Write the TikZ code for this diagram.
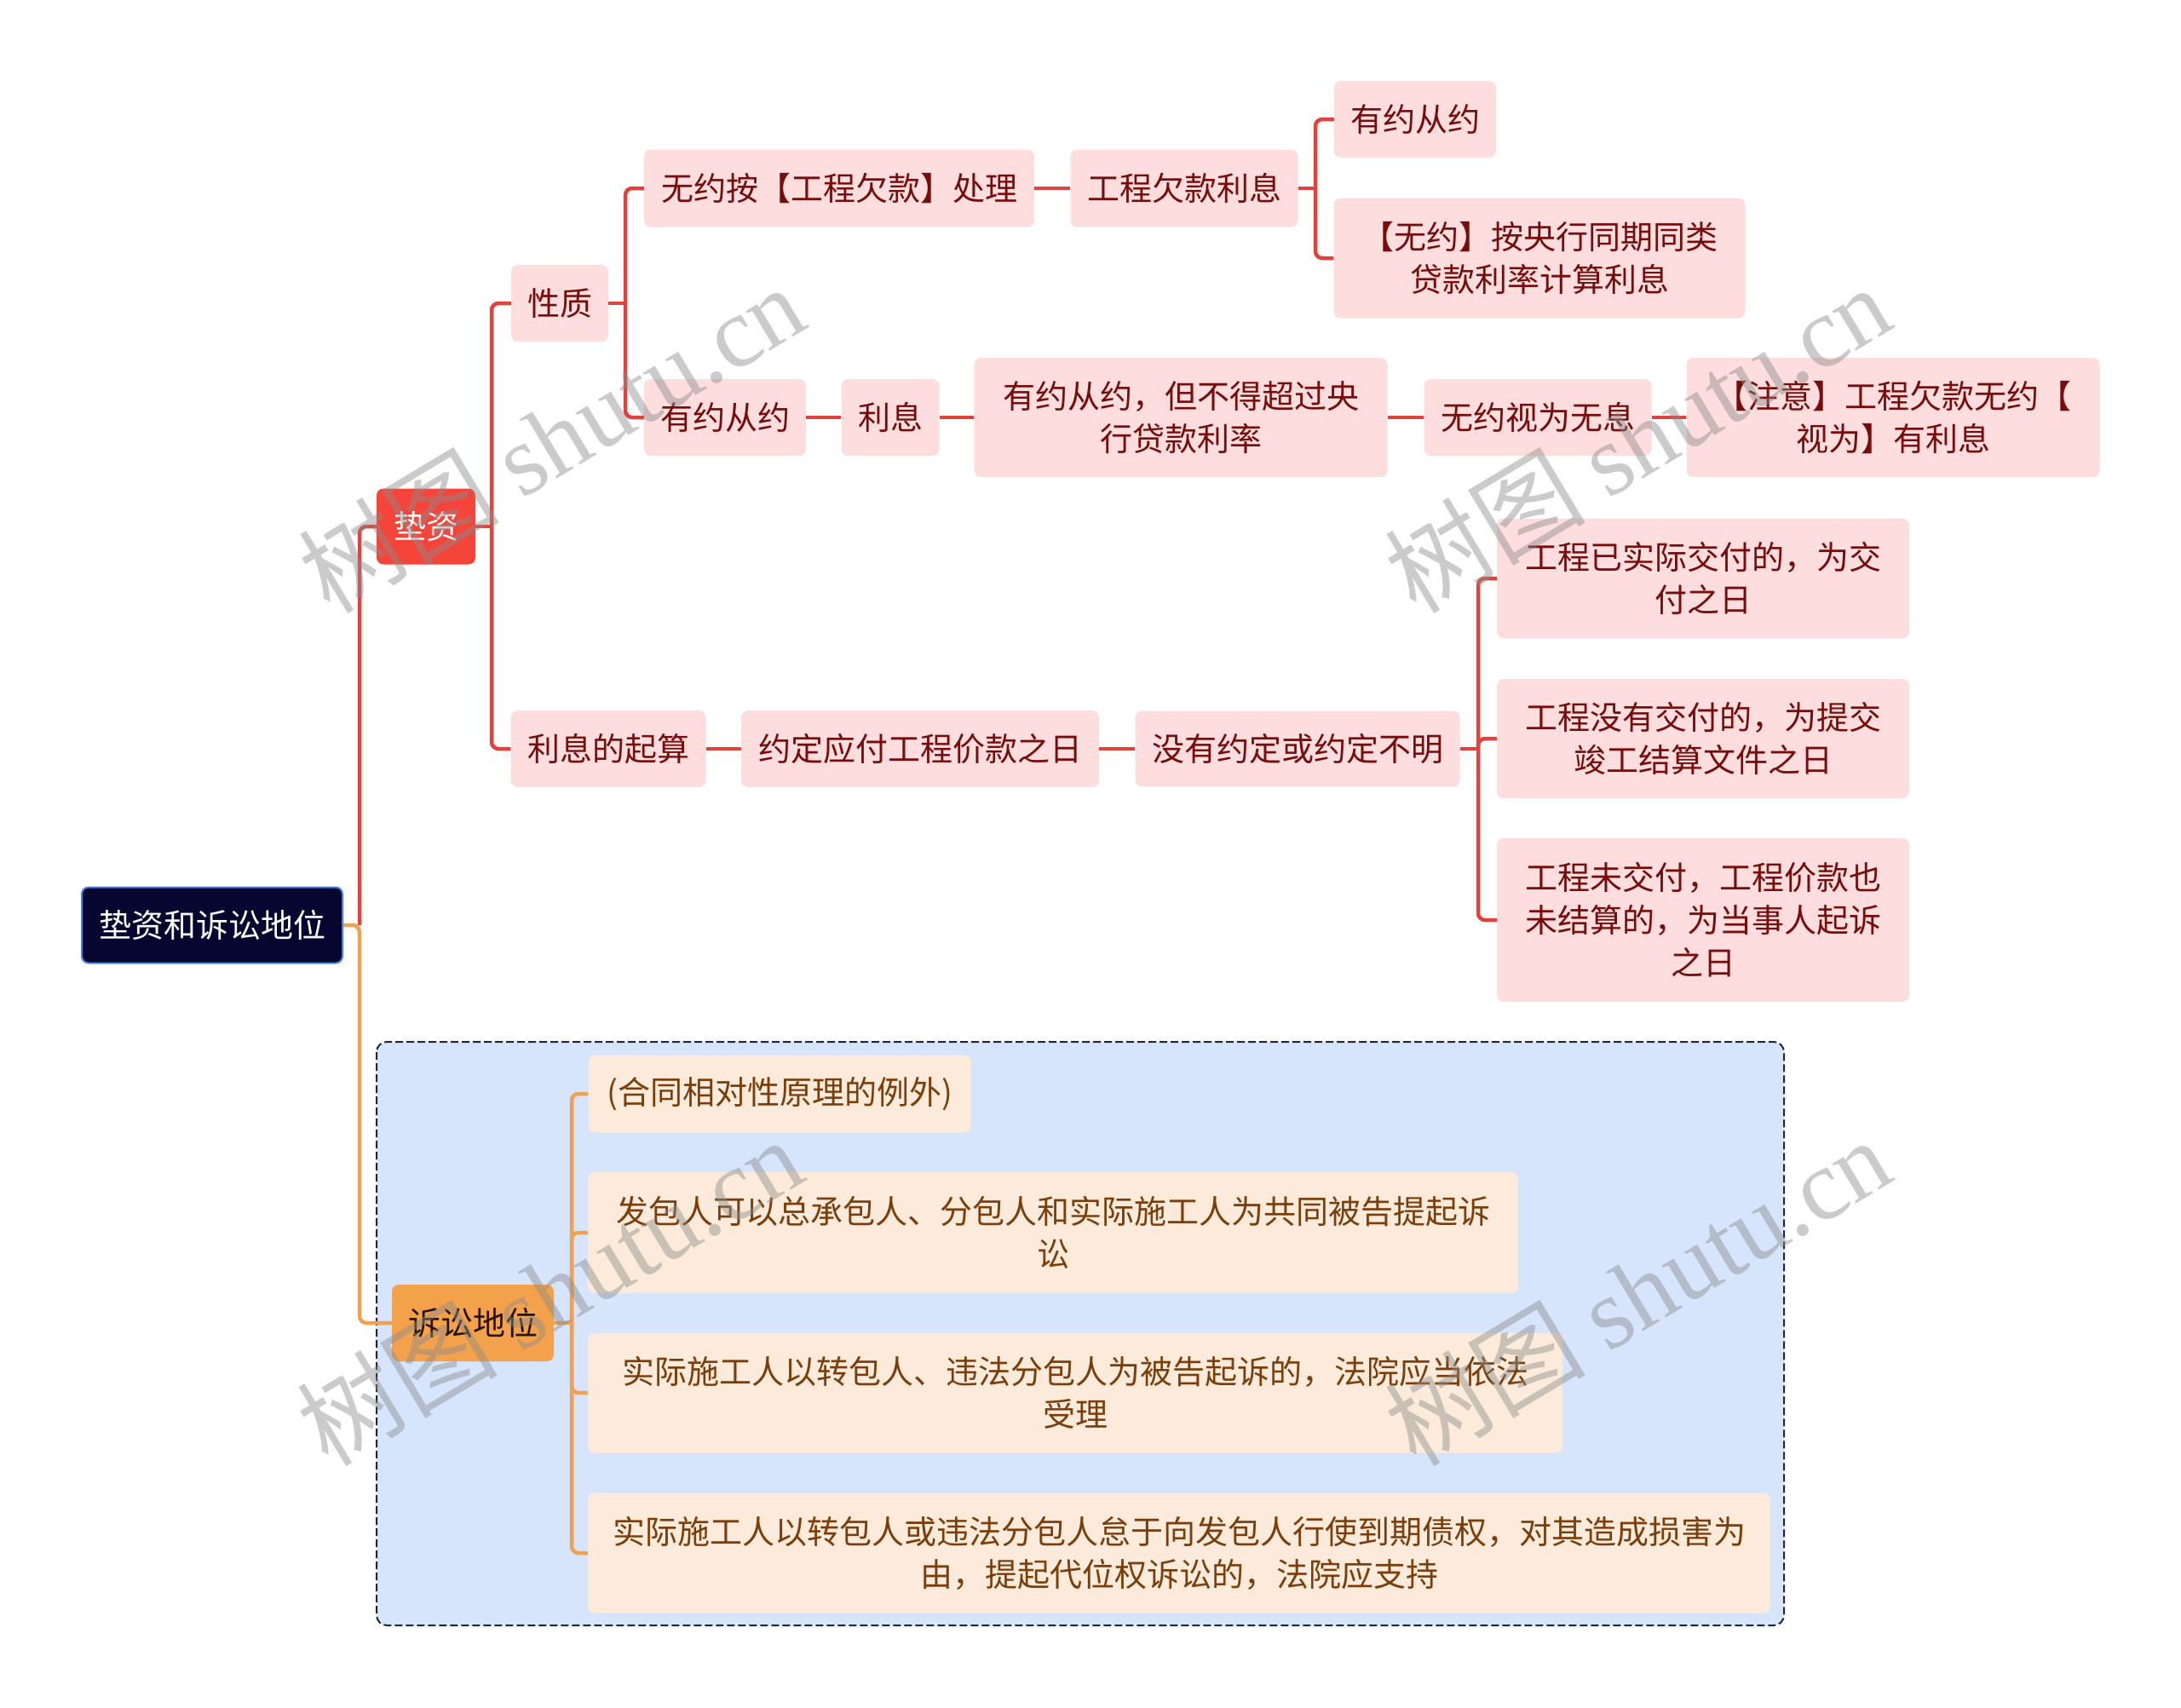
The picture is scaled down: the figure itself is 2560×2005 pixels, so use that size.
\documentclass[tikz,border=0pt]{standalone}
\usepackage{fontspec}
\setmainfont{Noto Sans CJK SC}
\newfontfamily\wmfont{Liberation Serif}
\usepackage{xcolor}
\usetikzlibrary{calc}
\definecolor{linered}{RGB}{226, 66, 60}
\definecolor{lineorange}{RGB}{240, 162, 80}
\definecolor{pinkfill}{RGB}{253, 221, 221}
\definecolor{pinktext}{RGB}{118, 12, 12}
\definecolor{redfill}{RGB}{245, 68, 58}
\definecolor{rootfill}{RGB}{6, 6, 48}
\definecolor{rootborder}{RGB}{70, 130, 225}
\definecolor{orangefill}{RGB}{244, 161, 76}
\definecolor{peachfill}{RGB}{252, 235, 218}
\definecolor{browntext}{RGB}{122, 62, 12}
\definecolor{groupblue}{RGB}{214, 228, 252}
\definecolor{groupedge}{RGB}{30, 40, 50}

\begin{document}
\begin{tikzpicture}[x=1pt, y=-1pt,
  box/.style={rounded corners=8pt, inner sep=0pt, align=center, font=\fontsize{38}{50}\selectfont},
  sz/.style 2 args={minimum width=#1pt, minimum height=#2pt},
  leaf/.style={box, fill=pinkfill, text=pinktext},
  suit/.style={box, fill=peachfill, text=browntext},
  redline/.style={linered, line width=4.5pt, rounded corners=8pt},
  orangeline/.style={lineorange, line width=4.5pt, rounded corners=8pt},
  wmark/.style={black!45, opacity=0.45, rotate=31, font=\fontsize{118}{118}\selectfont}]
  \useasboundingbox (0,0) rectangle (2560,2005);

  % 诉讼地位分组底框
  \draw[groupedge, fill=groupblue, line width=2pt, dash pattern=on 9pt off 4pt, rounded corners=12pt]
    (442,1223) rectangle (2094,1908);

  % 主干节点
  \node[box, sz={306}{89}, fill=rootfill, draw=rootborder, line width=2pt, text=white] (root) at (249,1086) {垫资和诉讼地位};
  \node[box, sz={116}{89}, fill=redfill, text=white] (dz) at (500,618) {垫资};
  \node[box, sz={190}{90}, fill=orangefill, text=black!75!orange!60!black] (ss) at (555,1553) {诉讼地位};

  % 垫资分支
  \node[leaf, sz={114}{90}] (xz) at (657,356) {性质};
  \node[leaf, sz={229}{90}] (qs) at (714,879) {利息的起算};
  \node[leaf, sz={458}{91}] (wy) at (985,221) {无约按【工程欠款】处理};
  \node[leaf, sz={190}{90}] (yy) at (851,490) {有约从约};
  \node[leaf, sz={115}{90}] (lx) at (1045,490) {利息};
  \node[leaf, sz={485}{140}] (bd) at (1386,490) {有约从约，但不得超过央\\行贷款利率};
  \node[leaf, sz={267}{91}] (qk) at (1390,221) {工程欠款利息};
  \node[leaf, sz={190}{90}] (yy2) at (1661,140) {有约从约};
  \node[leaf, sz={483}{141}] (wy2) at (1807,303) {【无约】按央行同期同类\\贷款利率计算利息};
  \node[leaf, sz={267}{90}] (ws) at (1805,490) {无约视为无息};
  \node[leaf, sz={485}{140}] (zy) at (2222,490) {【注意】工程欠款无约【\\视为】有利息};
  \node[leaf, sz={420}{90}] (yd) at (1080,879) {约定应付工程价款之日};
  \node[leaf, sz={381}{89}] (bm) at (1523,879) {没有约定或约定不明};
  \node[leaf, sz={484}{141}] (jf1) at (1999,679) {工程已实际交付的，为交\\付之日};
  \node[leaf, sz={484}{140}] (jf2) at (1999,867) {工程没有交付的，为提交\\竣工结算文件之日};
  \node[leaf, sz={484}{192}] (jf3) at (1999,1080) {工程未交付，工程价款也\\未结算的，为当事人起诉\\之日};

  % 诉讼地位分支
  \node[suit, sz={449}{91}] (s1) at (915,1284) {(合同相对性原理的例外)};
  \node[suit, sz={1092}{142}] (s2) at (1236,1447) {发包人可以总承包人、分包人和实际施工人为共同被告提起诉\\讼};
  \node[suit, sz={1144}{141}] (s3) at (1262,1635) {实际施工人以转包人、违法分包人为被告起诉的，法院应当依法\\受理};
  \node[suit, sz={1388}{141}] (s4) at (1384,1823) {实际施工人以转包人或违法分包人怠于向发包人行使到期债权，对其造成损害为\\由，提起代位权诉讼的，法院应支持};

  % 分叉竖线位置
  \coordinate (t0) at (422,0);
  \coordinate (t1) at (577,0);
  \coordinate (t2) at (734,0);
  \coordinate (t3) at (1544,0);
  \coordinate (t4) at (1735,0);
  \coordinate (t5) at (671,0);

  % 连线
  \draw[orangeline] (root.east) -- (root.east -| t0) |- (ss.west);
  \draw[redline] (root.east -| t0) |- (dz.west);

  \draw[redline] (dz.east) -- (dz.east -| t1);
  \foreach \c in {xz, qs} \draw[redline] (dz.east -| t1) |- (\c.west);

  \draw[redline] (xz.east) -- (xz.east -| t2);
  \foreach \c in {wy, yy} \draw[redline] (xz.east -| t2) |- (\c.west);

  \draw[redline] (qk.east) -- (qk.east -| t3);
  \foreach \c in {yy2, wy2} \draw[redline] (qk.east -| t3) |- (\c.west);

  \draw[redline] (bm.east) -- (bm.east -| t4);
  \foreach \c in {jf1, jf2, jf3} \draw[redline] (bm.east -| t4) |- (\c.west);

  \draw[orangeline] (ss.east) -- (ss.east -| t5);
  \foreach \c in {s1, s2, s3, s4} \draw[orangeline] (ss.east -| t5) |- (\c.west);

  \draw[redline] (wy.east) -- (qk.west);
  \draw[redline] (yy.east) -- (lx.west);
  \draw[redline] (lx.east) -- (bd.west);
  \draw[redline] (bd.east) -- (ws.west);
  \draw[redline] (ws.east) -- (zy.west);
  \draw[redline] (qs.east) -- (yd.west);
  \draw[redline] (yd.east) -- (bm.west);

  % 水印
  \foreach \p/\q [count=\i] in {647/514, 1922/514, 645/1515, 1922/1515}
    \node[wmark] (wm\i) at (\p,\q) {树图 {\wmfont shutu.cn}};
\end{tikzpicture}
\end{document}
